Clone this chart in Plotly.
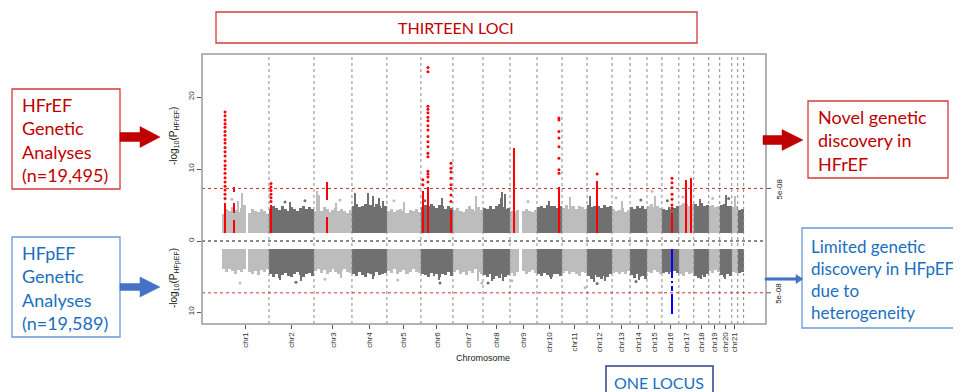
import plotly.graph_objects as go

# ---------------- data ----------------
chrom_names = ["chr1", "chr2", "chr3", "chr4", "chr5", "chr6", "chr7", "chr8", "chr9", "chr10", "chr11",
               "chr12", "chr13", "chr14", "chr15", "chr16", "chr17", "chr18", "chr19", "chr20", "chr21", "chr22"]
chrom_len = [261, 250, 211, 194, 189, 178, 167, 150, 150, 139, 139, 139, 100, 94, 83, 94, 83, 83, 61, 67, 33, 33]
labelled_chroms = 21

base_val = 1.15
threshold = 7.30  # -log10(5e-08)

# gray mass envelope (top of the cloud) per chromosome, HFrEF (upper) ; 0 = centromere gap
upper_profile = [
    [3.8, 4.4, 4.1, 4.7, 4.3, 4.0, 4.6, 5.0, 0, 3.9, 4.4, 4.2, 4.0, 4.5, 4.1, 3.8],
    [4.5, 4.9, 4.6, 4.3, 4.8, 4.4, 4.1, 4.7, 4.5, 4.2, 4.6, 4.9, 4.4, 4.7, 4.5],
    [4.2, 4.5, 4.1, 4.7, 4.4, 4.0, 4.3, 4.6, 4.1, 4.4, 4.2, 3.9, 4.3],
    [4.8, 5.1, 4.7, 4.9, 5.2, 4.8, 5.0, 4.7, 5.1, 4.9, 4.6, 4.8],
    [4.1, 4.4, 4.0, 4.3, 4.5, 4.2, 3.9, 4.3, 4.1, 4.4, 4.0],
    [4.7, 5.0, 4.8, 5.1, 4.9, 4.6, 5.0, 4.8, 4.5, 4.9, 4.6],
    [4.3, 4.6, 4.2, 4.0, 4.5, 4.8, 4.4, 4.2, 4.7, 4.3],
    [4.6, 4.4, 4.8, 4.5, 4.9, 5.1, 4.7, 4.4, 4.6],
    [4.2, 4.0, 4.3, 0, 4.1, 4.4, 4.2, 4.0, 4.3],
    [4.7, 4.9, 4.6, 5.0, 4.8, 4.9, 4.6, 4.8],
    [4.6, 5.0, 4.5, 4.8, 4.4, 4.9, 4.7, 4.5],
    [5.0, 4.7, 4.9, 4.8, 4.6, 5.0, 4.7, 4.8],
    [4.4, 4.1, 4.3, 4.6, 4.0, 4.3],
    [4.7, 4.5, 4.9, 4.6, 4.8, 4.4],
    [4.8, 5.1, 4.7, 4.9, 4.6],
    [4.5, 4.3, 4.7, 4.4, 4.6, 4.8],
    [5.0, 5.3, 5.1, 4.9, 5.2],
    [5.1, 4.9, 5.3, 4.8, 5.0],
    [4.8, 5.0, 4.7, 4.9],
    [5.0, 5.2, 4.9, 4.8],
    [4.7, 4.9],
    [4.3, 4.5],
]

# gray mass envelope (depth of the cloud), HFpEF (lower)
lower_profile = [
    [4.0, 4.3, 3.9, 4.2, 4.6, 4.1, 4.4, 4.0, 0, 4.3, 4.6, 4.2, 4.8, 4.1, 4.4, 4.0],
    [4.6, 5.0, 4.7, 5.2, 4.8, 4.5, 4.9, 5.1, 4.6, 4.4, 4.8, 5.0, 4.7, 4.5, 4.9],
    [4.2, 4.0, 4.5, 4.1, 4.6, 4.3, 4.0, 4.4, 4.7, 4.2, 4.0, 4.3, 4.5],
    [4.6, 4.9, 4.4, 4.8, 5.0, 4.5, 4.7, 4.9, 4.4, 4.8, 4.6, 4.5],
    [4.2, 4.5, 4.0, 4.7, 4.3, 4.1, 4.6, 4.4, 4.0, 4.3, 4.5],
    [4.6, 4.8, 5.1, 4.5, 4.9, 4.7, 5.0, 4.6, 4.8, 4.4, 4.9],
    [4.4, 4.1, 4.6, 4.3, 4.8, 4.2, 4.5, 4.0, 4.4, 4.7],
    [4.8, 5.1, 4.7, 5.3, 4.9, 5.2, 4.6, 5.0, 4.8],
    [4.5, 4.9, 4.3, 0, 4.2, 4.6, 4.4, 4.1, 4.5],
    [4.6, 4.9, 4.5, 4.8, 5.0, 4.6, 4.7, 4.9],
    [4.5, 4.2, 4.7, 4.4, 4.6, 4.9, 4.3, 4.5],
    [4.9, 5.3, 4.8, 5.1, 5.4, 4.9, 5.0, 4.7],
    [4.5, 4.3, 4.7, 4.4, 4.6, 4.2],
    [4.8, 5.2, 4.7, 5.0, 4.9, 5.3],
    [4.3, 4.5, 4.1, 4.4, 4.6],
    [4.5, 4.3, 4.6, 4.4, 4.2, 4.5],
    [4.6, 4.9, 4.4, 4.7, 4.5],
    [4.9, 5.2, 4.8, 5.0, 4.7],
    [4.2, 4.5, 4.1, 4.4],
    [4.8, 5.0, 4.6, 4.9],
    [4.3, 4.5],
    [4.5, 4.3],
]

# isolated taller gray columns (chromosome number, position Mb, -log10 P)
up_spike_chr = [1, 1, 3, 3, 3, 4, 4, 4, 4, 4, 5, 6, 7, 8, 8, 8, 11, 12, 13, 15, 18, 20, 21, 10, 2]
up_spike_pos = [111, 89, 17, 28, 122, 17, 89, 117, 150, 172, 94, 117, 128, 106, 122, 100, 44, 17, 56, 44, 33, 33, 17, 70, 120]
up_spike_val = [6.6, 5.5, 7.0, 6.4, 5.3, 6.6, 6.7, 6.3, 6.0, 5.6, 5.4, 6.0, 6.2, 6.8, 6.5, 6.0, 6.1, 6.3, 5.6, 6.3, 5.9, 6.4, 6.2, 5.6, 5.4]

up_dot_chr = [1, 2, 2, 3, 5, 6, 9, 13, 15, 17, 19, 20, 14, 16]
up_dot_pos = [55, 89, 200, 144, 39, 22, 100, 22, 28, 22, 22, 50, 60, 30]
up_dot_val = [5.8, 5.4, 5.6, 5.7, 5.6, 5.6, 5.5, 6.0, 6.9, 6.1, 5.9, 5.9, 5.7, 5.6]

low_spike_chr = [2, 2, 4, 6, 8, 8, 10, 12, 12, 14, 18, 20, 3, 7]
low_spike_pos = [60, 180, 120, 100, 50, 110, 80, 40, 100, 50, 40, 30, 150, 140]
low_spike_val = [5.5, 5.6, 5.4, 5.5, 5.6, 5.7, 5.3, 5.8, 5.6, 5.5, 5.4, 5.3, 5.2, 5.6]

low_dot_chr = [1, 3, 6, 8, 9, 11, 12, 14, 2, 5, 7]
low_dot_pos = [100, 61, 106, 28, 11, 128, 56, 33, 150, 60, 160]
low_dot_val = [5.9, 5.4, 5.9, 5.9, 5.6, 6.6, 6.0, 5.7, 5.8, 5.5, 5.9]

# thirteen HFrEF loci: solid runs of SNPs and sparse SNPs above
loci_chr = [1, 1, 2, 3, 6, 6, 6, 9, 10, 12, 16, 17, 17]
loci_pos = [17, 67, 11, 72, 11, 39, 167, 22, 122, 56, 56, 39, 67]
loci_runs = [
    [(1.15, 5.3)],
    [(1.15, 2.9), (3.9, 5.3), (6.8, 7.5)],
    [(1.15, 5.0)],
    [(1.15, 3.4), (5.7, 8.2)],
    [(1.15, 7.0)],
    [(1.15, 7.5)],
    [(1.15, 4.3)],
    [(1.15, 12.9)],
    [(1.15, 7.5)],
    [(1.15, 8.4)],
    [(1.15, 3.9)],
    [(1.15, 8.5)],
    [(1.15, 8.7)],
]
loci_dots = [
    [5.9, 6.5, 7.1, 7.6, 8.2, 8.8, 9.4, 10.0, 10.5, 11.1, 11.8, 12.4, 13.0, 13.6, 14.1, 14.7, 15.2, 15.8, 16.3, 16.8, 17.4, 17.9],
    [],
    [5.5, 6.0, 6.5, 7.0, 7.5, 8.0],
    [],
    [7.8, 8.5],
    [8.2, 8.9, 9.3, 9.7, 11.7, 12.2, 13.1, 13.8, 14.5, 15.4, 16.0, 16.7, 17.2, 17.8, 18.3, 18.7, 23.5, 24.1],
    [5.5, 6.4, 7.3, 7.8, 8.7, 9.6, 10.1, 10.8],
    [],
    [9.4, 9.9, 11.5, 13.1, 14.3, 15.2, 16.8, 17.1],
    [9.3],
    [4.6, 5.0, 5.8, 6.5, 7.4, 8.1, 8.7],
    [],
    [],
]

# single HFpEF locus
hfpef_chr = 16
hfpef_pos = 56
hfpef_runs = [(1.15, 5.2), (5.6, 5.9), (6.4, 7.0), (7.4, 10.3)]

# ---------------- layout helpers ----------------
PAGE_OFF = 8          # browser default body margin
L, R, T, B = 202, 766, 54, 324   # plot frame in window pixels
WIN_W, WIN_H = 961, 392
FW, FH = WIN_W - PAGE_OFF, WIN_H - PAGE_OFF
PX_PER_UNIT_UP = 7.2
PX_PER_UNIT_LO = 7.1
MID = 241


def fx(p):
    return (p - L) / (R - L)


def fy(p):
    return (B - p) / (B - T)


offsets = []
acc = 0
for ln in chrom_len:
    offsets.append(acc)
    acc += ln
chrom_end = [o + ln for o, ln in zip(offsets, chrom_len)]
centers = [o + ln / 2 for o, ln in zip(offsets, chrom_len)]

MB_PER_PX = 1 / 0.18
x_range = [(L - 222) * MB_PER_PX, (R - 222) * MB_PER_PX]

LIGHT = "#bdbdbd"
DARK = "#707070"
RED = "#ff0000"
BLUE = "#0000ff"


def gcol(ci):
    return LIGHT if ci % 2 == 0 else DARK


fig = go.Figure()


def mass_traces(profile, yaxis):
    xs, ys, ws, cs = [], [], [], []
    for ci, prof in enumerate(profile):
        k = len(prof)
        bw = chrom_len[ci] / k
        for i, v in enumerate(prof):
            if v <= 0:
                continue
            xs.append(offsets[ci] + (i + 0.5) * bw)
            ys.append(v - base_val)
            ws.append(bw * 1.02)
            cs.append(gcol(ci))
    fig.add_trace(go.Bar(x=xs, y=ys, base=[base_val] * len(xs), width=ws,
                         marker=dict(color=cs, line=dict(width=0)), yaxis=yaxis, xaxis="x",
                         hoverinfo="skip"))


def spike_traces(chs, pos, vals, yaxis):
    xs = [offsets[c - 1] + p for c, p in zip(chs, pos)]
    cs = [gcol(c - 1) for c in chs]
    fig.add_trace(go.Bar(x=xs, y=[v - base_val for v in vals], base=[base_val] * len(xs),
                         width=[7] * len(xs), marker=dict(color=cs, line=dict(width=0)),
                         yaxis=yaxis, xaxis="x", hoverinfo="skip"))


def dot_traces(chs, pos, vals, yaxis):
    xs = [offsets[c - 1] + p for c, p in zip(chs, pos)]
    cs = [gcol(c - 1) for c in chs]
    fig.add_trace(go.Scatter(x=xs, y=vals, mode="markers", marker=dict(color=cs, size=3),
                             yaxis=yaxis, xaxis="x", hoverinfo="skip"))


mass_traces(upper_profile, "y")
mass_traces(lower_profile, "y2")
spike_traces(up_spike_chr, up_spike_pos, up_spike_val, "y")
spike_traces(low_spike_chr, low_spike_pos, low_spike_val, "y2")
dot_traces(up_dot_chr, up_dot_pos, up_dot_val, "y")
dot_traces(low_dot_chr, low_dot_pos, low_dot_val, "y2")

# red loci
rx, ry, rb = [], [], []
dx, dy = [], []
for c, p, runs, dots in zip(loci_chr, loci_pos, loci_runs, loci_dots):
    xc = offsets[c - 1] + p
    for lo, hi in runs:
        rx.append(xc)
        ry.append(hi - lo)
        rb.append(lo)
    for d in dots:
        dx.append(xc)
        dy.append(d)
fig.add_trace(go.Bar(x=rx, y=ry, base=rb, width=[12] * len(rx), marker=dict(color=RED, line=dict(width=0)),
                     yaxis="y", xaxis="x", hoverinfo="skip"))
fig.add_trace(go.Scatter(x=dx, y=dy, mode="markers", marker=dict(color=RED, size=3),
                         yaxis="y", xaxis="x", hoverinfo="skip"))

# blue locus
bx = offsets[hfpef_chr - 1] + hfpef_pos
fig.add_trace(go.Bar(x=[bx] * len(hfpef_runs), y=[hi - lo for lo, hi in hfpef_runs],
                     base=[lo for lo, hi in hfpef_runs], width=[12] * len(hfpef_runs),
                     marker=dict(color=BLUE, line=dict(width=0)), yaxis="y2", xaxis="x", hoverinfo="skip"))

shapes = []
# chromosome boundary lines
for e in chrom_end:
    shapes.append(dict(type="line", xref="x", yref="paper", x0=e, x1=e, y0=0, y1=1,
                       line=dict(color="#8a8a8a", width=1, dash="dot"), layer="above"))
# zero line
shapes.append(dict(type="line", xref="paper", yref="paper", x0=0, x1=1, y0=fy(MID), y1=fy(MID),
                   line=dict(color="#8a8a8a", width=2, dash="dot"), layer="above"))
# thresholds
for yr in ("y", "y2"):
    shapes.append(dict(type="line", xref="paper", yref=yr, x0=0, x1=1, y0=threshold, y1=threshold,
                       line=dict(color="#d03030", width=1, dash="dot"), layer="above"))
    shapes.append(dict(type="line", xref="paper", yref=yr, x0=1, x1=fx(771), y0=threshold, y1=threshold,
                       line=dict(color="#555", width=1), layer="above"))
# frame
shapes.append(dict(type="rect", xref="paper", yref="paper", x0=0, x1=1, y0=0, y1=1,
                   line=dict(color="#9a9a9a", width=1.5), layer="above"))

RED_TXT = "#c00000"
RED_BOX = "#d23b3b"
BLUE_TXT = "#1a6fbf"
BLUE_BOX = "#6b9ad6"
NAVY_BOX = "#2f3f8a"


def box(x0, y0, x1, y1, col, w=1.3):
    shapes.append(dict(type="rect", xref="paper", yref="paper", x0=fx(x0), x1=fx(x1), y0=fy(y1), y1=fy(y0),
                       line=dict(color=col, width=w), fillcolor="white", layer="above"))


box(216, 12, 697, 43, RED_BOX)
box(12, 89, 120, 189, RED_BOX)
box(12, 237, 120, 337, BLUE_BOX)
box(808, 101, 948, 178, RED_BOX)
box(802, 228, 962, 328, BLUE_BOX)
box(606, 366, 713, 400, NAVY_BOX, 1.5)


def poly(points, col):
    d = "M " + " L ".join(f"{fx(a):.5f},{fy(b):.5f}" for a, b in points) + " Z"
    shapes.append(dict(type="path", xref="paper", yref="paper", path=d, fillcolor=col,
                       line=dict(color=col, width=0.5), layer="above"))


def block_arrow(x0, x1, xh, yc, sh, hh, col):
    poly([(x0, yc - sh), (xh, yc - sh), (xh, yc - hh), (x1, yc), (xh, yc + hh), (xh, yc + sh), (x0, yc + sh)], col)


block_arrow(120, 160, 140, 137, 4.5, 10.5, "#c00000")
block_arrow(120, 160, 140, 287, 3.5, 10, "#4472c4")
block_arrow(763, 803, 782, 140, 4.5, 10.5, "#c00000")
block_arrow(765, 803, 796, 279, 1.3, 4.5, "#4472c4")

ann = []


def text(x, y, s, col, size=18, xanchor="left", family="Lato"):
    ann.append(dict(xref="paper", yref="paper", x=fx(x), y=fy(y), text=s, showarrow=False,
                    xanchor=xanchor, yanchor="middle", align="left",
                    font=dict(family=family, size=size, color=col)))


text(456, 28, "THIRTEEN LOCI", RED_TXT, 16, "center")
text(20, 140, "HFrEF<br>Genetic<br>Analyses<br>(n=19,495)", RED_TXT)
text(20, 288, "HFpEF<br>Genetic<br>Analyses<br>(n=19,589)", BLUE_TXT)
text(816, 140, "Novel genetic<br>discovery in<br>HFrEF", RED_TXT)
text(809, 279, "Limited genetic<br>discovery in HFpEF<br>due to<br>heterogeneity", BLUE_TXT, 17)
text(659, 382, "ONE LOCUS", BLUE_TXT, 16, "center")

# axis titles
for yc, s in ((136, "-log<sub>10</sub>(P<sub>HFrEF</sub>)"), (278, "-log<sub>10</sub>(P<sub>HFpEF</sub>)")):
    ann.append(dict(xref="paper", yref="paper", x=fx(174), y=fy(yc), text=s, showarrow=False, textangle=-90,
                    xanchor="center", yanchor="middle", font=dict(family="Liberation Sans", size=10, color="#222")))
ann.append(dict(xref="paper", yref="paper", x=fx(483), y=fy(358), text="Chromosome", showarrow=False,
                xanchor="center", yanchor="middle", font=dict(family="Liberation Sans", size=9, color="#222")))
for yr in ("y", "y2"):
    ann.append(dict(xref="paper", yref=yr, x=fx(779), y=threshold, text="5e-08", showarrow=False, textangle=-90,
                    xanchor="center", yanchor="middle", font=dict(family="Liberation Sans", size=8, color="#222")))

tickfont = dict(family="Liberation Sans", size=8, color="#333")
fig.update_layout(
    width=FW, height=FH, autosize=False,
    margin=dict(l=L - PAGE_OFF, r=WIN_W - R, t=T - PAGE_OFF, b=WIN_H - B, pad=0),
    paper_bgcolor="white", plot_bgcolor="white",
    showlegend=False, barmode="overlay", bargap=0,
    shapes=shapes, annotations=ann,
    xaxis=dict(range=x_range, anchor="y2", showgrid=False, zeroline=False, showline=False,
               tickmode="array", tickvals=centers[:labelled_chroms], ticktext=chrom_names[:labelled_chroms],
               tickangle=-90, ticks="outside", ticklen=4, tickcolor="#555", tickfont=tickfont),
    yaxis=dict(domain=[fy(MID), 1], range=[0, (MID - T) / PX_PER_UNIT_UP], anchor="x",
               showgrid=False, zeroline=False, showline=False,
               tickmode="array", tickvals=[0, 10, 20], ticktext=["0", "10", "20"], tickangle=-90,
               ticks="outside", ticklen=4, tickcolor="#555", tickfont=tickfont),
    yaxis2=dict(domain=[0, fy(MID)], range=[(B - MID) / PX_PER_UNIT_LO, 0], anchor="x",
                showgrid=False, zeroline=False, showline=False,
                tickmode="array", tickvals=[10], ticktext=["10"], tickangle=-90,
                ticks="outside", ticklen=4, tickcolor="#555", tickfont=tickfont),
)

fig.write_html("out.html")
